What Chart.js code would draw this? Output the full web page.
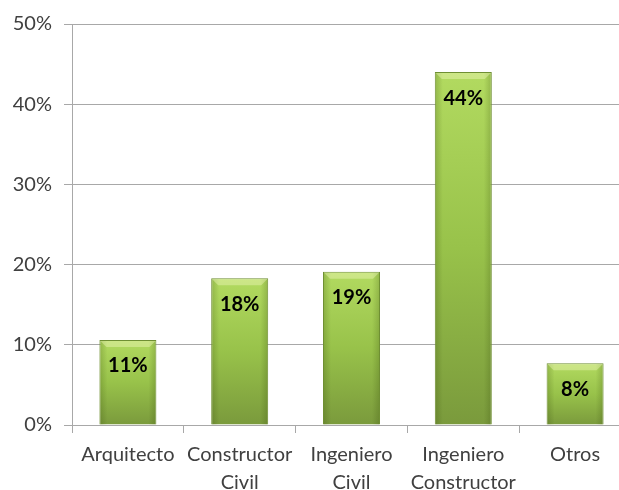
<!DOCTYPE html>
<html>
<head>
<meta charset="utf-8">
<script src="https://cdn.jsdelivr.net/npm/chart.js@4/dist/chart.umd.min.js"></script>
<style>
  html, body { margin: 0; padding: 0; background: #fff; overflow: hidden; }
  #wrap { width: 640px; height: 490px; }
</style>
</head>
<body>
<div id="wrap"><canvas id="profChart"></canvas></div>
<script>
const categories = [
    'Arquitecto',
    ['Constructor', 'Civil'],
    ['Ingeniero', 'Civil'],
    ['Ingeniero', 'Constructor'],
    'Otros'
];
const shares = [10.6, 18.3, 19.1, 44.0, 7.7];
const yTicks = [0, 10, 20, 30, 40, 50];

const FONT = 'Lato, "Liberation Sans", sans-serif';

// vertical light-to-dark green fill, sized to each bar
function barFill(context){
    const chart = context.chart;
    if(!chart.chartArea){
        return '#98c24e';
    }
    const y = chart.scales.y;
    const top = y.getPixelForValue(context.raw);
    const bottom = y.getPixelForValue(0);
    const g = chart.ctx.createLinearGradient(0, top, 0, bottom);
    g.addColorStop(0, '#b2da60');
    g.addColorStop(0.5, '#98c24a');
    g.addColorStop(1, '#7a9a3c');
    return g;
}

// side shading and top bevel on each bar, then the value label
const barDecor = {
    id: 'barDecor',
    afterDatasetsDraw(chart){
        const ctx = chart.ctx;
        const meta = chart.getDatasetMeta(0);
        meta.data.forEach((bar, i) => {
            const left = bar.x - bar.width / 2;
            const right = bar.x + bar.width / 2;
            const top = bar.y;
            const base = bar.base;
            ctx.save();
            const h = ctx.createLinearGradient(left, 0, right, 0);
            h.addColorStop(0, 'rgba(40,60,0,0.22)');
            h.addColorStop(0.14, 'rgba(40,60,0,0)');
            h.addColorStop(0.86, 'rgba(40,60,0,0)');
            h.addColorStop(1, 'rgba(40,60,0,0.22)');
            ctx.fillStyle = h;
            ctx.fillRect(left + 1, top + 1, bar.width - 2, base - top - 1);

            // top bevel
            const bv = 7;
            ctx.fillStyle = 'rgba(255,255,210,0.35)';
            ctx.beginPath();
            ctx.moveTo(left + 1, top + 1);
            ctx.lineTo(right - 1, top + 1);
            ctx.lineTo(right - bv, top + bv);
            ctx.lineTo(left + bv, top + bv);
            ctx.closePath();
            ctx.fill();

            ctx.fillStyle = '#000';
            ctx.font = 'bold 20px ' + FONT;
            ctx.textAlign = 'center';
            ctx.textBaseline = 'middle';
            ctx.fillText(Math.round(shares[i]) + '%', bar.x, top + 26);
            ctx.restore();
        });
    }
};

new Chart(document.getElementById('profChart'), {
    type: 'bar',
    data: {
        labels: categories,
        datasets: [{
            data: shares,
            backgroundColor: barFill,
            borderColor: '#6f8f33',
            borderWidth: 1,
            barPercentage: 0.51,
            categoryPercentage: 1
        }]
    },
    options: {
        responsive: true,
        maintainAspectRatio: false,
        animation: false,
        layout: {
            padding: { top: 19, right: 9, left: 0, bottom: 0 }
        },
        plugins: {
            legend: { display: false },
            tooltip: { enabled: false }
        },
        scales: {
            x: {
                grid: {
                    drawOnChartArea: false,
                    drawTicks: true,
                    tickLength: 8,
                    color: '#a8a8a8'
                },
                border: { color: '#a8a8a8' },
                ticks: {
                    color: '#404040',
                    font: { family: FONT, size: 20, lineHeight: 1.4 },
                    padding: 8,
                    maxRotation: 0,
                    autoSkip: false
                },
                afterFit(scale){
                    scale.height = 65;
                }
            },
            y: {
                min: 0,
                max: 50,
                afterBuildTicks(scale){
                    scale.ticks = yTicks.map(v => ({ value: v }));
                },
                grid: {
                    color: '#a8a8a8',
                    tickLength: 8
                },
                border: { color: '#a8a8a8' },
                ticks: {
                    color: '#404040',
                    font: { family: FONT, size: 20 },
                    padding: 12,
                    callback: v => v + '%'
                },
                afterFit(scale){
                    scale.width = 72;
                }
            }
        }
    },
    plugins: [barDecor]
});
</script>
</body>
</html>
